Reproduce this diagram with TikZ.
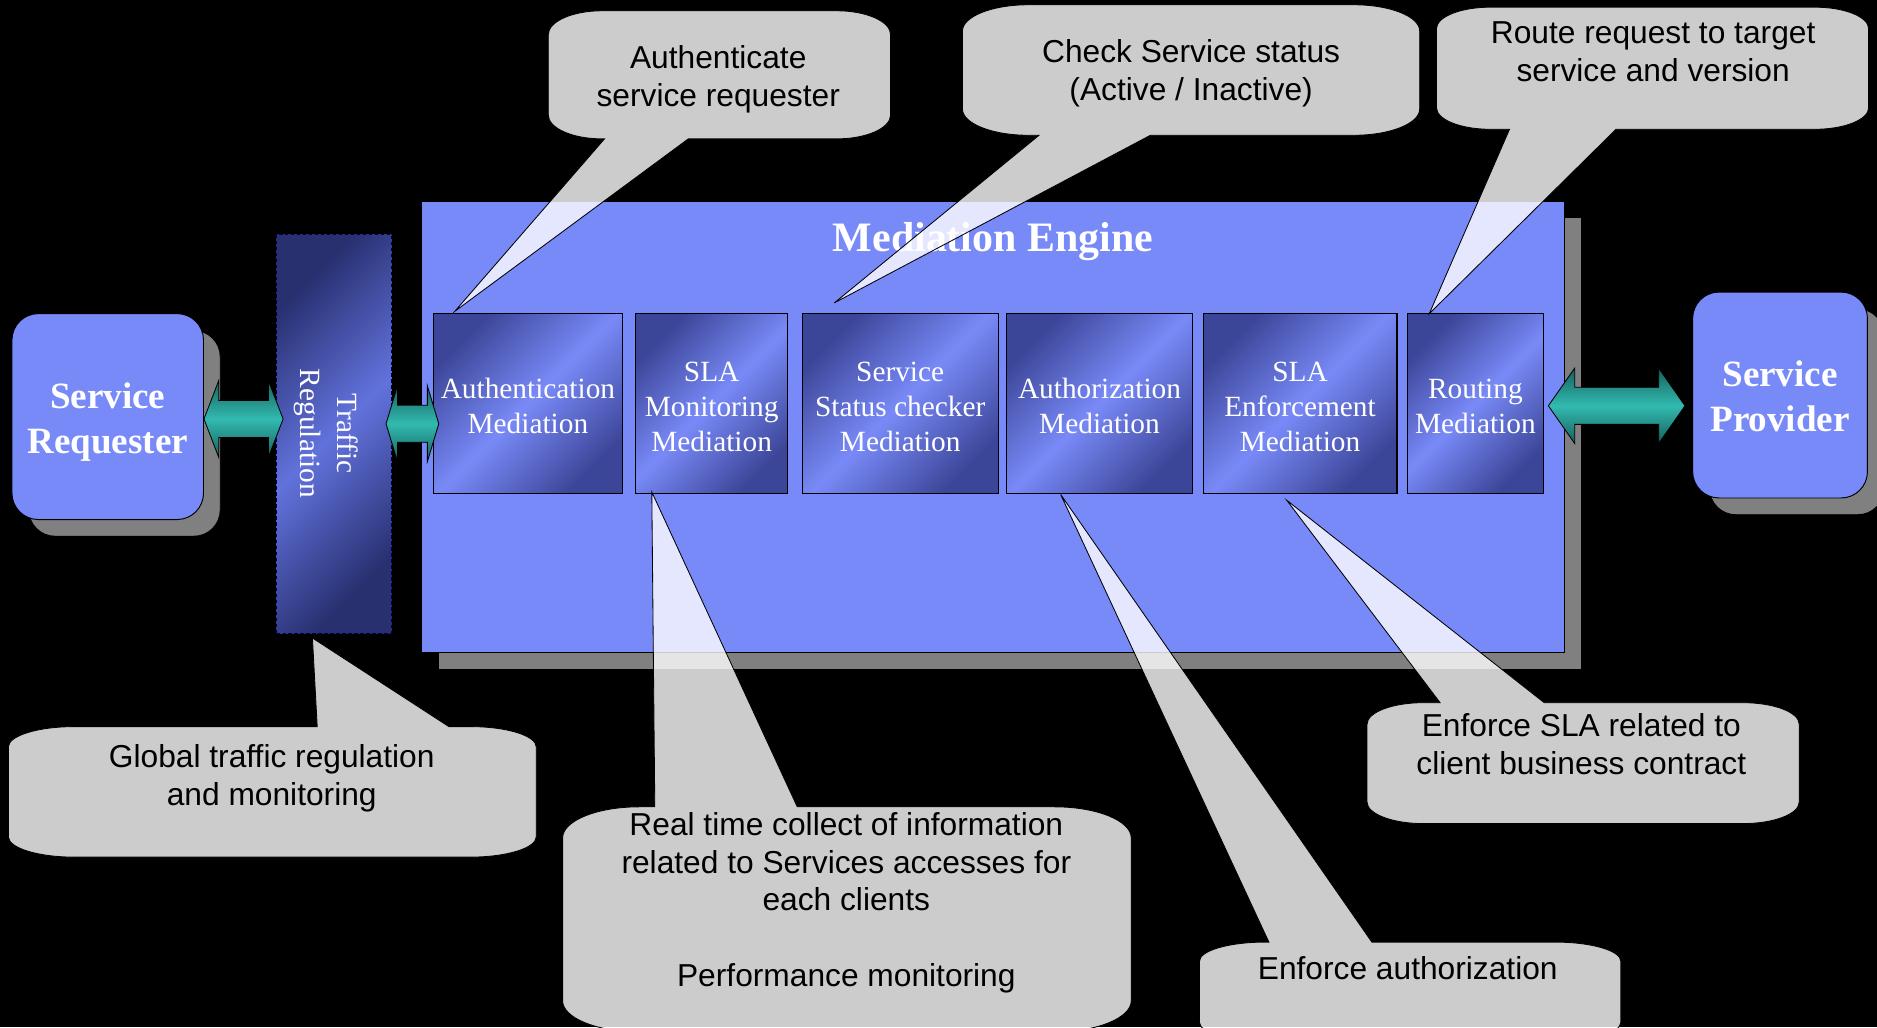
\documentclass[tikz,border=0pt]{standalone}
\usepackage{fontspec}
\setmainfont{Liberation Serif}
\newfontfamily\calloutfont{Liberation Sans}
\usetikzlibrary{shadows,calc}

% palette
\definecolor{engineblue}{RGB}{120,137,248}
\definecolor{shadowgray}{RGB}{128,128,128}
\definecolor{medDark}{RGB}{60,70,152}
\definecolor{medLight}{RGB}{121,138,248}
\definecolor{trafDark}{RGB}{40,48,112}
\definecolor{trafLight}{RGB}{98,114,220}
\definecolor{tealDark}{RGB}{22,96,92}
\definecolor{tealLight}{RGB}{50,186,176}

% diagonal fills of the mediation blocks and of the traffic block
\pgfdeclarehorizontalshading{mediafill}{100bp}{color(0bp)=(medDark); color(25bp)=(medDark); color(50bp)=(medLight); color(75bp)=(medDark); color(100bp)=(medDark)}
\pgfdeclarehorizontalshading{trafficfill}{100bp}{color(0bp)=(trafDark); color(25bp)=(trafDark); color(50bp)=(trafLight); color(75bp)=(trafDark); color(100bp)=(trafDark)}

% centred lines whose first baseline is the node's base
\newcommand\textlines[1]{\begin{tabular}[t]{@{}c@{}}#1\end{tabular}}

% speech bubble, tail on the lower side: body (#1,#2)-(#3,#4), corner radii #5/#6,
% tail base from x=#7 to x=#8, tail tip at coordinate #9
\newcommand\calloutdown[9]{%
  \path[callout] ({#1+#5},#2) -- ({#3-#5},#2)
    .. controls ({#3-0.448*#5},#2) and (#3,{#2+0.448*#6}) .. (#3,{#2+#6})
    -- (#3,{#4-#6})
    .. controls (#3,{#4-0.448*#6}) and ({#3-0.448*#5},#4) .. ({#3-#5},#4)
    -- (#8,#4) -- (#9) -- (#7,#4)
    -- ({#1+#5},#4)
    .. controls ({#1+0.448*#5},#4) and (#1,{#4-0.448*#6}) .. (#1,{#4-#6})
    -- (#1,{#2+#6})
    .. controls (#1,{#2+0.448*#6}) and ({#1+0.448*#5},#2) .. ({#1+#5},#2)
    -- cycle;}
% speech bubble, tail on the upper side
\newcommand\calloutup[9]{%
  \path[callout] ({#1+#5},#2) -- (#7,#2) -- (#9) -- (#8,#2) -- ({#3-#5},#2)
    .. controls ({#3-0.448*#5},#2) and (#3,{#2+0.448*#6}) .. (#3,{#2+#6})
    -- (#3,{#4-#6})
    .. controls (#3,{#4-0.448*#6}) and ({#3-0.448*#5},#4) .. ({#3-#5},#4)
    -- ({#1+#5},#4)
    .. controls ({#1+0.448*#5},#4) and (#1,{#4-0.448*#6}) .. (#1,{#4-#6})
    -- (#1,{#2+#6})
    .. controls (#1,{#2+0.448*#6}) and ({#1+0.448*#5},#2) .. ({#1+#5},#2)
    -- cycle;}
% two-headed block arrow between coordinates #1 and #2:
% head length #3, head half-height #4, shaft half-height #5
\newcommand\blockarrow[5]{%
  \draw[tealarrow] (#1) -- ++(#3,-#4) -- ++(0,{#4-#5}) -- ($(#2)+(-#3,-#5)$)
    -- ++(0,{#5-#4}) -- (#2) -- ++(-#3,#4) -- ++(0,{#5-#4})
    -- ($(#1)+(#3,#5)$) -- ++(0,{#4-#5}) -- cycle;}

\tikzset{
  engine/.style={draw=black, line width=0.8pt, fill=engineblue, inner sep=0pt,
    minimum width=955pt, minimum height=377pt,
    drop shadow={shadow xshift=14pt, shadow yshift=-14pt, fill=shadowgray, draw=black, opacity=1}},
  service/.style={draw=black, line width=0.8pt, fill=engineblue, rounded corners=22pt,
    inner sep=0pt, minimum height=172pt,
    drop shadow={shadow xshift=14pt, shadow yshift=-14pt, fill=shadowgray, draw=black, opacity=1}},
  medbox/.style={draw=black, line width=0.9pt, inner sep=0pt, minimum height=150pt,
    shade, shading=mediafill, shading angle=-45},
  trafficbox/.style={draw=black!70!blue, line width=1pt, dash pattern=on 3pt off 2pt,
    inner sep=0pt, minimum width=96pt, minimum height=333pt,
    shade, shading=trafficfill, shading angle=-45},
  boxtext/.style={anchor=base, inner sep=0pt, text=white, font=\fontsize{24.5}{29.5}\selectfont},
  servicetext/.style={anchor=base, inner sep=0pt, text=white, font=\bfseries\fontsize{31}{37.6}\selectfont},
  titletext/.style={anchor=base, inner sep=0pt, text=white, font=\bfseries\fontsize{35}{42}\selectfont},
  calltext/.style={anchor=base, inner sep=0pt, text=black, font=\calloutfont\fontsize{26.5}{31.7}\selectfont},
  callout/.style={fill=white, fill opacity=0.8, draw=black, line width=0.7pt, line join=miter},
  tealarrow/.style={draw=black, line width=0.7pt, top color=tealDark, bottom color=tealDark, middle color=tealLight},
}

\begin{document}
\begin{tikzpicture}[x=1pt, y=-1pt]
  \path[use as bounding box, clip] (0,0) rectangle (1568,858);
  \fill[black] (0,0) rectangle (1568,858);

  % gateway in front of the engine
  \node[trafficbox] (traffic) at (279,362.5) {};
  \node[boxtext, rotate=-90] (trafficT) at (282,362) {\fontsize{24.5}{31}\selectfont\textlines{Traffic\\Regulation}};

  % mediation engine and its chain of mediations
  \node[engine] (engine) at (829.5,356.5) {};
  \node[titletext] (engineT) at (829.5,210.5) {Mediation Engine};

  \node[medbox, minimum width=158pt] (auth)    at (441,337)    {};
  \node[medbox, minimum width=127pt] (slamon)  at (594.5,337)  {};
  \node[medbox, minimum width=164pt] (status)  at (752,337)    {};
  \node[medbox, minimum width=155pt] (authz)   at (918.5,337)  {};
  \node[medbox, minimum width=162pt] (slaenf)  at (1086,337)   {};
  \node[medbox, minimum width=113pt] (routing) at (1232.5,337) {};

  \node[boxtext] (authT)    at (441,332.5)    {\textlines{Authentication\\Mediation}};
  \node[boxtext] (slamonT)  at (594.5,318.5)  {\textlines{SLA\\Monitoring\\Mediation}};
  \node[boxtext] (statusT)  at (752,318.5)    {\textlines{Service\\Status checker\\Mediation}};
  \node[boxtext] (authzT)   at (918.5,332.5)  {\textlines{Authorization\\Mediation}};
  \node[boxtext] (slaenfT)  at (1086,318.5)   {\textlines{SLA\\Enforcement\\Mediation}};
  \node[boxtext] (routingT) at (1232.5,332.5) {\textlines{Routing\\Mediation}};

  % end points of the exchange
  \node[service, minimum width=160pt] (req)  at (90,348)   {};
  \node[service, minimum width=146pt] (prov) at (1487,330) {};
  \node[servicetext] (reqT)  at (90,341)   {\textlines{Service\\Requester}};
  \node[servicetext] (provT) at (1487,323) {\textlines{Service\\Provider}};

  % two-way flows
  \coordinate (a1s) at ($(req.east)+(0,2)$);
  \coordinate (a1e) at ($(traffic.west)+(6,-12.5)$);
  \coordinate (a2s) at ($(traffic.east)+(-5,-8.5)$);
  \coordinate (a2e) at ($(auth.west)+(5,17)$);
  \coordinate (a3s) at ($(routing.east)+(4,2)$);
  \coordinate (a3e) at ($(prov.west)+(-6,9)$);
  \blockarrow{a1s}{a1e}{12.3}{32}{15.5}
  \blockarrow{a2s}{a2e}{9.5}{31.5}{15.5}
  \blockarrow{a3s}{a3e}{22}{31.5}{15.5}

  % callout tips
  \coordinate (tipAuth)    at (380,260);
  \coordinate (tipStatus)  at (697,253);
  \coordinate (tipRoute)   at (1194,262);
  \coordinate (tipTraffic) at (261,533);
  \coordinate (tipMon)     at (544.5,411);
  \coordinate (tipAuthz)   at (886,413);
  \coordinate (tipSla)     at (1075,418);

  \calloutdown{458}{9}{744}{116}{45}{20}{505}{575}{tipAuth}
  \calloutdown{804}{4}{1186}{113}{55}{22}{868}{961}{tipStatus}
  \calloutdown{1200}{6}{1561}{108}{45}{18}{1261}{1350}{tipRoute}
  \calloutup{7}{607}{448}{716}{55}{17}{265}{375}{tipTraffic}
  \calloutup{470}{674}{945}{862}{64}{26}{547}{666}{tipMon}
  \calloutup{1002}{787}{1354}{870}{55}{16}{1060}{1146}{tipAuthz}
  \calloutup{1142}{587}{1503}{688}{47}{18}{1203}{1290}{tipSla}

  \node[calltext] (noteAuth)    at (600,57.5)  {\textlines{Authenticate\\service requester}};
  \node[calltext] (noteStatus)  at (995,52.5)  {\textlines{Check Service status\\(Active / Inactive)}};
  \node[calltext] (noteRoute)   at (1381,36)   {\textlines{Route request to target\\service and version}};
  \node[calltext] (noteTraffic) at (227,641.5) {\textlines{Global traffic regulation\\and monitoring}};
  \node[calltext] (noteMon)     at (707,697.6) {\textlines{Real time collect of information\\related to Services accesses for\\each clients\\ \\Performance monitoring}};
  \node[calltext] (noteAuthz)   at (1176,818)  {\textlines{Enforce authorization}};
  \node[calltext] (noteSla)     at (1321,615.5) {\textlines{Enforce SLA related to\\client business contract}};
\end{tikzpicture}
\end{document}
